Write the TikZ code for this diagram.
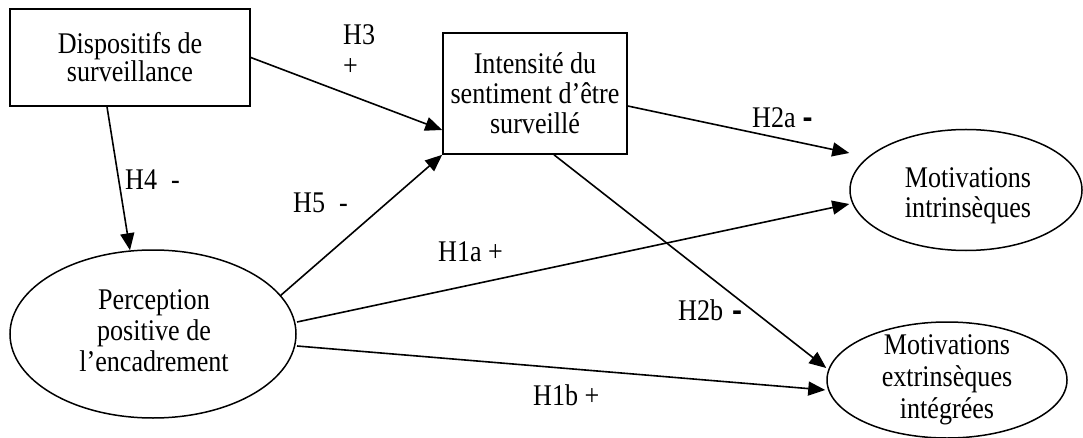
\documentclass[tikz,border=0pt]{standalone}
\usepackage{fontspec}
\setmainfont{Liberation Serif}[FakeStretch=0.87]
\newfontfamily\dashfont{Liberation Sans}
\usetikzlibrary{arrows.meta,shapes.geometric,calc}
\begin{document}
\begin{tikzpicture}[x=1pt,y=-1pt,
  every node/.style={font=\fontsize{30}{31}\selectfont},
  boxnode/.style={draw,line width=1.6pt,align=center,inner sep=0pt},
  ellnode/.style={draw,ellipse,line width=1.5pt,inner sep=0pt},
  txt/.style={align=center,inner sep=0pt},
  conn/.style={line width=1.6pt,-{Triangle[length=17pt,width=14pt]}},
  lbl/.style={anchor=west,inner sep=0pt}]
\path[fill=white] (0,0) rectangle (1083,438);
\useasboundingbox (0,0) rectangle (1083,438);

% boxes
\node[boxnode,minimum width=240pt,minimum height=97pt] (b1) at (130,57.5) {Dispositifs de\\[-3pt]surveillance};
\node[boxnode,minimum width=184pt,minimum height=121pt] (b2) at (535,93.5) {Intensité du\\[-1pt]sentiment d’être\\[-1pt]surveillé};

% ellipses
\node[ellnode,minimum width=286pt,minimum height=168pt] (perc) at (153,334) {};
\node[txt] (perct) at (154,331) {Perception\\positive de\\l’encadrement};
\node[ellnode,minimum width=232pt,minimum height=121pt] (intr) at (966,190) {};
\node[txt] (intrt) at (968,196) {Motivations\\[-1pt]intrinsèques};
\node[ellnode,minimum width=240pt,minimum height=116pt] (extr) at (947,380) {};
\node[txt] (extrt) at (947,380) {Motivations\\[1pt]extrinsèques\\[1pt]intégrées};

% connectors
\draw[conn] (b1.east) -- ($(b2.west)+(0,36.5)$);
\draw[conn] ($(b1.south)+(-23,0)$) -- ($(perc.north)+(-23,1)$);
\draw[conn] ($(perc.center)+(127,-38)$) -- (b2.south west);
\draw[conn] ($(perc.center)+(144,-12)$) -- ($(intr.west)+(0,14)$);
\draw[conn] ($(perc.center)+(144,12)$) -- ($(extr.west)+(-1,10)$);
\draw[conn] ($(b2.east)+(0,12.5)$) -- ($(intr.west)+(0,-37)$);
\draw[conn] ($(b2.south)+(19,0)$) -- ($(extr.west)+(0,-12)$);

% labels
\node[lbl] (h3) at (343,35) {H3};
\node[lbl] (h3s) at (343,67) {+};
\node[lbl] (h4) at (125,180) {H4\hspace{14pt}-};
\node[lbl] (h5) at (293,203) {H5\hspace{14pt}-};
\node[lbl] (h1a) at (438,252) {H1a +};
\node[lbl] (h1b) at (533,395) {H1b +};
\node[lbl] (h2a) at (752,118) {H2a\hspace{7pt}{\dashfont\bfseries -}};
\node[lbl] (h2b) at (678,310) {H2b\hspace{9pt}{\dashfont\bfseries -}};
\end{tikzpicture}
\end{document}
